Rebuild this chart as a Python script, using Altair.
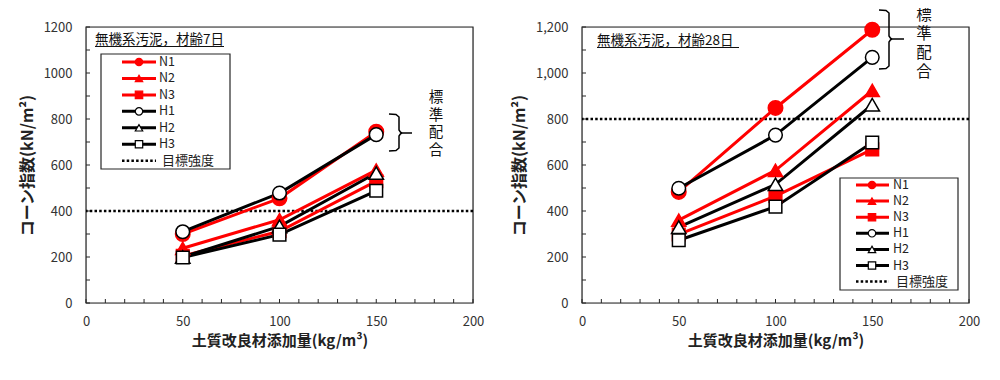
import altair as alt
import pandas as pd

# ---------------- data ----------------
X_DOSE = [50, 100, 150]
SERIES = ["N1", "N2", "N3", "H1", "H2", "H3"]

DAY7_N1 = [300, 455, 745]
DAY7_N2 = [238, 362, 578]
DAY7_N3 = [205, 312, 530]
DAY7_H1 = [310, 478, 732]
DAY7_H2 = [200, 333, 565]
DAY7_H3 = [198, 297, 488]

DAY28_N1 = [483, 848, 1188]
DAY28_N2 = [360, 577, 924]
DAY28_N3 = [298, 465, 668]
DAY28_H1 = [499, 730, 1068]
DAY28_H2 = [330, 516, 862]
DAY28_H3 = [273, 419, 698]

X_TICKS = [0, 50, 100, 150, 200]
Y_TICKS = [0, 200, 400, 600, 800, 1000, 1200]
TARGET_7 = 400
TARGET_28 = 800

TITLE_7 = "無機系汚泥，材齢7日"
TITLE_28 = "無機系汚泥，材齢28日"
X_TITLE = "土質改良材添加量(kg/m³)"
Y_TITLE = "コーン指数(kN/m²)"
ANNOT = ["標", "準", "配", "合"]
TARGET_LABEL = "目標強度"

# ---------------- style ----------------
RED = "#ff0000"
BLACK = "#000000"
FRAME = "#262626"
FONT = "Noto Sans CJK JP"
W, H = 387, 276
XMAX, YMAX = 200, 1200

SIZES = {"N1": 210, "N2": 200, "N3": 160, "H1": 185, "H2": 210, "H3": 160}

color_scale = alt.Scale(domain=SERIES, range=[RED] * 3 + [BLACK] * 3)
shape_scale = alt.Scale(domain=SERIES, range=["circle", "triangle-up", "square"] * 2)
fill_scale = alt.Scale(domain=SERIES, range=[RED] * 3 + ["white"] * 3)


def dx(px):
    return px / W * XMAX


def dy(py):
    return (H - py) / H * YMAX


one = pd.DataFrame({"a": [0]})


def panel(data, title, title_pos, underline_len, target, yfmt, box, row0, step,
          line_x, marker_x, label_x, bracket, annot_pos, annot_font, annot_step, gap=None):
    xscale = alt.Scale(domain=[0, XMAX], nice=False, zero=False)
    yscale = alt.Scale(domain=[0, YMAX], nice=False, zero=False)
    xaxis = alt.Axis(values=X_TICKS, title=X_TITLE, titleFontSize=15, titleFontWeight="bold",
                     labelFontSize=13, ticks=False, domain=False, grid=False, labelPadding=12,
                     titlePadding=5, labelColor="#333333", titleColor="#222222",
                     labelFont=FONT, titleFont=FONT, labelFlush=False)
    yaxis = alt.Axis(values=Y_TICKS, format=yfmt, title=Y_TITLE, titleFontSize=16,
                     titleFontWeight="bold", labelFontSize=13, ticks=False, domain=False,
                     grid=False, labelPadding=14, titlePadding=8, labelColor="#333333",
                     titleColor="#222222", labelFont=FONT, titleFont=FONT, labelFlush=False)

    def X(f):
        return alt.X(f, type="quantitative", scale=xscale, axis=xaxis)

    def Y(f):
        return alt.Y(f, type="quantitative", scale=yscale, axis=yaxis)

    rows = []
    for s in SERIES:
        for xv, yv in zip(X_DOSE, data[s]):
            rows.append({"s": s, "x": xv, "y": yv, "sz": SIZES[s]})
    df = pd.DataFrame(rows)

    layers = []
    # frame
    layers.append(alt.Chart(one).mark_rect(fill="white", fillOpacity=0, stroke=FRAME, strokeWidth=1.2)
                  .encode(x=alt.value(0), x2=alt.value(W), y=alt.value(0), y2=alt.value(H)))
    # inside ticks
    xt = pd.DataFrame({"t": list(range(0, XMAX + 1, 10))})
    yt = pd.DataFrame({"t": list(range(0, YMAX + 1, 100))})
    layers.append(alt.Chart(xt).mark_rule(stroke=FRAME, strokeWidth=1)
                  .encode(x=X("t"), y=alt.value(H), y2=alt.value(H - 4)))
    layers.append(alt.Chart(yt).mark_rule(stroke=FRAME, strokeWidth=1)
                  .encode(y=Y("t"), x=alt.value(0), x2=alt.value(4)))
    # target line
    layers.append(alt.Chart(pd.DataFrame({"t": [target]}))
                  .mark_rule(stroke=BLACK, strokeWidth=2.5, strokeDash=[2.5, 2.2])
                  .encode(y=Y("t")))
    # series
    layers.append(alt.Chart(df).mark_line(strokeWidth=3)
                  .encode(X("x"), Y("y"),
                          color=alt.Color("s:N", scale=color_scale, legend=None),
                          detail="s:N"))
    layers.append(alt.Chart(df).mark_point(filled=True, strokeWidth=1.5, opacity=1)
                  .encode(X("x"), Y("y"),
                          shape=alt.Shape("s:N", scale=shape_scale, legend=None),
                          fill=alt.Fill("s:N", scale=fill_scale, legend=None),
                          stroke=alt.Stroke("s:N", scale=color_scale, legend=None),
                          size=alt.Size("sz:Q", scale=None, legend=None)))
    # legend box
    bx0, bx1, by0, by1 = box
    layers.append(alt.Chart(one).mark_rect(fill="white", stroke=FRAME, strokeWidth=1.2)
                  .encode(x=alt.value(bx0), x2=alt.value(bx1), y=alt.value(by0), y2=alt.value(by1)))
    leg = pd.DataFrame({
        "s": SERIES,
        "ly": [dy(row0 + i * step) for i in range(len(SERIES))],
        "lx0": [dx(line_x[0])] * len(SERIES),
        "lx1": [dx(line_x[1])] * len(SERIES),
        "mx": [dx(marker_x)] * len(SERIES),
        "tx": [dx(label_x)] * len(SERIES),
    })
    layers.append(alt.Chart(leg).mark_rule(strokeWidth=3)
                  .encode(x=X("lx0"), x2=alt.X2("lx1"), y=Y("ly"),
                          color=alt.Color("s:N", scale=color_scale, legend=None)))
    layers.append(alt.Chart(leg).mark_point(filled=True, strokeWidth=1.2, size=55, opacity=1)
                  .encode(X("mx"), Y("ly"),
                          shape=alt.Shape("s:N", scale=shape_scale, legend=None),
                          fill=alt.Fill("s:N", scale=fill_scale, legend=None),
                          stroke=alt.Stroke("s:N", scale=color_scale, legend=None)))
    layers.append(alt.Chart(leg).mark_text(align="left", baseline="middle", fontSize=12.5,
                                           font=FONT, color="#222222")
                  .encode(X("tx"), Y("ly"), text="s:N"))
    tleg = pd.DataFrame({"ly": [dy(row0 + len(SERIES) * step)], "lx0": [dx(line_x[0])],
                         "lx1": [dx(line_x[1])], "tx": [dx(label_x + 3)], "lab": [TARGET_LABEL]})
    layers.append(alt.Chart(tleg).mark_rule(stroke=BLACK, strokeWidth=2.5, strokeDash=[2.5, 2.2])
                  .encode(x=X("lx0"), x2=alt.X2("lx1"), y=Y("ly")))
    layers.append(alt.Chart(tleg).mark_text(align="left", baseline="middle", fontSize=13,
                                            font=FONT, color="#222222")
                  .encode(X("tx"), Y("ly"), text="lab:N"))
    # title with underline
    tx, ty = title_pos
    layers.append(alt.Chart(one).mark_text(text=title, align="left", baseline="middle",
                                           fontSize=13.5, font=FONT, color="#111111")
                  .encode(x=alt.value(tx), y=alt.value(ty)))
    layers.append(alt.Chart(one).mark_rule(stroke="#111111", strokeWidth=1)
                  .encode(x=alt.value(tx), x2=alt.value(tx + underline_len),
                          y=alt.value(ty + 6.5)))
    # gap in the frame behind the annotation
    if gap is not None:
        layers.append(alt.Chart(one).mark_rect(fill="white")
                      .encode(x=alt.value(gap[0]), x2=alt.value(gap[1]),
                              y=alt.value(-2), y2=alt.value(2)))
    # bracket
    x0, xv, xc, x1, yt0, ym, yb = bracket
    pts = [(x0, yt0), (xv - 3, yt0 + 0.5), (xv, yt0 + 3), (xv, ym - 3), (xv + 1.5, ym - 0.8),
           (xc, ym), (x1, ym), (xc, ym), (xv + 1.5, ym + 0.8), (xv, ym + 3), (xv, yb - 3),
           (xv - 3, yb - 0.5), (x0, yb)]
    br = pd.DataFrame({"i": list(range(len(pts))), "bx": [dx(p[0]) for p in pts],
                       "by": [dy(p[1]) for p in pts]})
    layers.append(alt.Chart(br).mark_line(stroke=BLACK, strokeWidth=1.5)
                  .encode(X("bx"), Y("by"), order="i:Q"))
    ax, ay = annot_pos
    an = pd.DataFrame({"c": ANNOT, "ax": [dx(ax)] * len(ANNOT),
                       "ay": [dy(ay + i * annot_step) for i in range(len(ANNOT))]})
    layers.append(alt.Chart(an).mark_text(align="center", baseline="middle",
                                          fontSize=annot_font, font=FONT, color="#111111")
                  .encode(X("ax"), Y("ay"), text="c:N"))

    return alt.layer(*layers).properties(width=W, height=H)


d7 = {"N1": DAY7_N1, "N2": DAY7_N2, "N3": DAY7_N3, "H1": DAY7_H1, "H2": DAY7_H2, "H3": DAY7_H3}
d28 = {"N1": DAY28_N1, "N2": DAY28_N2, "N3": DAY28_N3, "H1": DAY28_H1, "H2": DAY28_H2, "H3": DAY28_H3}

left = panel(d7, TITLE_7, (9, 13), 129, TARGET_7, "d",
             box=(15, 144, 27, 142), row0=35, step=16.45,
             line_x=(36, 70), marker_x=53, label_x=73,
             bracket=(303, 313, 316, 326, 87, 106, 124),
             annot_pos=(350, 71), annot_font=14.5, annot_step=17.5)
right = panel(d28, TITLE_28, (15, 14), 142, TARGET_28, ",d",
              box=(258, 376, 151, 263), row0=158, step=16.1,
              line_x=(274, 307), marker_x=290, label_x=311,
              bracket=(297, 307, 310, 322, -17, 12, 42),
              annot_pos=(342, -12), annot_font=15.5, annot_step=19)

chart = alt.hconcat(left, right, spacing=109, bounds="flush").configure_view(
    stroke=None
).configure(font=FONT, padding={"left": 10, "top": -2, "right": 5, "bottom": 5}, background="white")

chart.save("out.html", embed_options={"renderer": "svg", "actions": False})
